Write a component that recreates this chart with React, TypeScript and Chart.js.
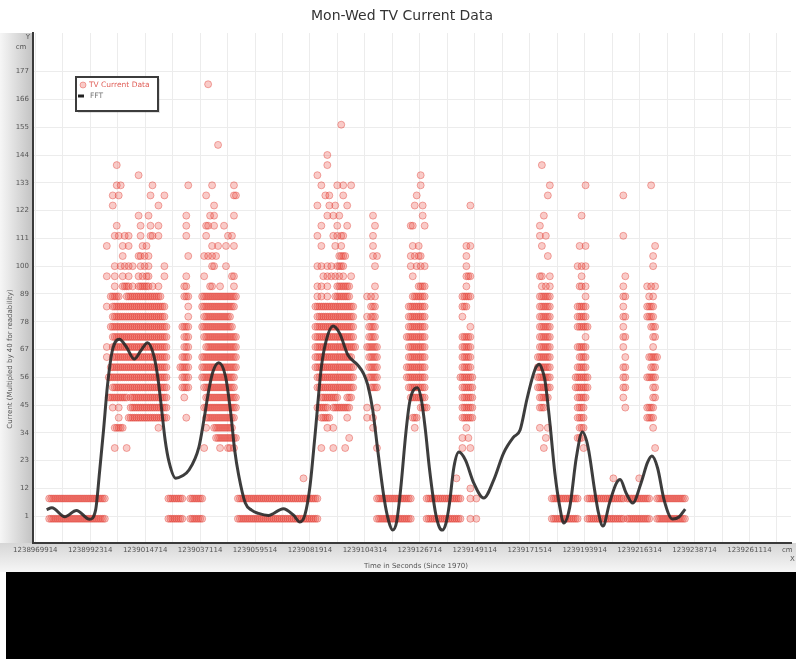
import React, { useEffect, useRef } from 'react';
import { Chart, registerables } from 'chart.js';

Chart.register(...registerables);

// ---------- text ----------
const TITLE = 'Mon-Wed TV Current Data';
const X_TITLE = 'Time in Seconds (Since 1970)';
const Y_TITLE = 'Current (Multipled by 40 for readability)';
const SERIES_READINGS = 'TV Current Data';
const SERIES_FFT = 'FFT';
const Y_UNIT = 'cm';
const X_UNIT = 'cm';

// ---------- axes ----------
const X_TICK_LABELS = [
  1238969914, 1238992314, 1239014714, 1239037114, 1239059514, 1239081914, 1239104314,
  1239126714, 1239149114, 1239171514, 1239193914, 1239216314, 1239238714, 1239261114,
];
const X_GRID_HALF_STEP = 11200;
const X_MIN = 1238968982;
const X_MAX = 1239278043;
const Y_TICKS = [1, 12, 23, 34, 45, 56, 67, 78, 89, 100, 111, 122, 133, 144, 155, 166, 177];
const Y_MIN = -9.6;
const Y_MAX = 192.3;

// ---------- readings ----------
// Readings are placed on a time grid: slot k = START + k * SLOT_SECONDS.
// Each row is [current value, pattern]; an 'o' at position i is a reading in slot firstSlot + i.
const START = 1238969914;
const SLOT_SECONDS = 810;

// standby readings at levels 0 and 8
const STANDBY_LEVELS = [0, 8];
const STANDBY_RUNS: [number, string][] = [
  [7, 'ooooooooooooooooooooooooooooo'],
  [67, 'oooooooo...ooooooo'],
  [102, 'ooooooooooooooooooooooooooooooooooooooooo'],
  [172, 'oooooooooooooooooo'],
  [197, 'oooooooooooooooooo....o..o'],
  [260, 'oooooooooooooo'],
  [278, 'ooooooooooooooooooo.oooooooooooo...ooooooooooooooo'],
];

const SESSION_1_SLOT = 35;
const SESSION_1: [number, string][] = [
  [140, '......o'],
  [136, '.................o'],
  [132, '......o.o...............o'],
  [128, '....o..o...............o......o'],
  [124, '....o......................o'],
  [120, '.................o....o'],
  [116, '......o...........o....o...o'],
  [112, '.....o.o..o.o.....o....oo..o'],
  [108, '.o.......o..o......o.o'],
  [104, '.........o.......oo.o.o'],
  [100, '.....o..o.o.o.o...o.o.o.......o'],
  [96, '.o...o...o..o....o.o.oo.......o'],
  [92, '.....o...oooo.o..oooooo.o..o'],
  [88, '...ooooo...oooooooooooooooooo'],
  [84, '.o..ooooooooooooooooooooooooooo'],
  [80, '....ooooooooooooooooooooooooooo'],
  [76, '...ooooooooooooooooooooooooooooo'],
  [72, '....oooooooooooooooooooooooooooo'],
  [68, '.o..oooooooooooooooooooooooooooo'],
  [64, '.o..oooooooooooooooooooooooooooo'],
  [60, '...ooooooooooooooooooooooooooooo'],
  [56, '..oooooooooooooooooooooooooooooo'],
  [52, '....oooooooooooooooooooooooooooo'],
  [48, '..oooooooooo.ooooooooooooooooooo'],
  [44, '....o..o.....ooooooooooooooooooo'],
  [40, '.......o....oooooooooooooooooooo'],
  [36, '.....ooooo.................o'],
  [28, '.....o.....o'],
];

const SESSION_2_SLOT = 73;
const SESSION_2: [number, string][] = [
  [172, '..............o'],
  [148, '...................o'],
  [132, '....o...........o..........o'],
  [128, '.............o.............oo'],
  [124, '.................o'],
  [120, '...o...........o.o.........o'],
  [116, '...o.........oo..o....o'],
  [112, '...o.........o..........o.o'],
  [108, '................o..o...o...o'],
  [104, '....o.......o.o.o.o'],
  [100, '................oo.....o'],
  [96, '...o........o.............oo'],
  [92, '..oo...........oo...o......o'],
  [88, '..ooo......oooooooooooooooooo'],
  [84, '....o......ooooooooooooooooo'],
  [80, '....o.......oooooooooooooo'],
  [76, '.oooo......oooooooooooooooo'],
  [72, '..ooo.......ooooooooooooooooo'],
  [68, '..ooo........oooooooooooooooo'],
  [64, '.oooo......oooooooooooooooooo'],
  [60, 'ooooo......oooooooooooooooooo'],
  [56, '.oooo......ooooooooooooooooo'],
  [52, '.oooo.......oooooooooooooooo'],
  [48, '..o..........oooooooooooooooo'],
  [44, '............ooooooooooooooooo'],
  [40, '...o.........ooooooooooooooo'],
  [36, '.............o...oooooooooo'],
  [32, '..................ooooooooooo'],
  [28, '............o.......o...oo.o'],
];

const SESSION_3_SLOT = 135;
const SESSION_3: [number, string][] = [[16, 'o']];

const SESSION_4_SLOT = 140;
const SESSION_4: [number, string][] = [
  [156, '..............o'],
  [144, '.......o'],
  [140, '.......o'],
  [136, '..o'],
  [132, '....o.......o..o...o'],
  [128, '......o.o......o'],
  [124, '..o.....o..o.....o'],
  [120, '.......o..o..o'],
  [116, '....o.......o....o'],
  [112, '..o.......o.o.oo'],
  [108, '....o......o..o'],
  [104, '.............oooo'],
  [100, '..o.o..o.o..oooo'],
  [96, '.....o.o.o.o.o.o...o'],
  [92, '..o.o..o....ooooooo'],
  [88, '..o.o..o...oooooooo'],
  [84, '.oooooooooooooooooooo'],
  [80, '..ooooooooooooooooooo'],
  [76, '.oooooooooooooooooooo'],
  [72, '.oooooooooooooooooooo'],
  [68, '.ooooooooooooooooooooo'],
  [64, '.ooooooooooooooooooo'],
  [60, '.oooooooooooooooooooo'],
  [56, '..ooooooooooooooooooo'],
  [52, '..ooooooooooooooooooo'],
  [48, '....ooooooooo....ooo'],
  [44, '..oooooo..ooooooooo'],
  [40, '....ooooo........o'],
  [36, '.......o..o'],
  [32, '..................o'],
  [28, '....o.....o.....o'],
];

const SESSION_5_SLOT = 166;
const SESSION_5: [number, string][] = [
  [120, '....o'],
  [116, '.....o'],
  [112, '....o'],
  [108, '....o'],
  [104, '....o.o'],
  [100, '.....o'],
  [92, '.....o'],
  [88, '.o.o.o'],
  [84, '...ooo'],
  [80, '.o.ooo'],
  [76, '..oooo'],
  [72, '..oooo'],
  [68, '.oooooo'],
  [64, '..ooooo'],
  [60, '..ooooo'],
  [56, '..ooooo'],
  [52, '...oooo'],
  [44, '.o....o'],
  [40, '.o..o'],
  [36, '....o'],
  [28, '......o'],
];

const SESSION_6_SLOT = 187;
const SESSION_6: [number, string][] = [
  [136, '.......o'],
  [132, '.......o'],
  [128, '.....o'],
  [124, '....o...o'],
  [120, '........o'],
  [116, '..oo.....o'],
  [108, '...o..o'],
  [104, '..o.o.oo'],
  [100, '..o..o.o.o'],
  [96, '...o'],
  [92, '......oooo'],
  [88, '...ooooooo'],
  [84, '.ooooooooo'],
  [80, '.ooooooooo'],
  [76, '.ooooooooo'],
  [72, 'oooooooooo'],
  [68, '.ooooooooo'],
  [64, '.ooooooooo'],
  [60, 'oooooooooo'],
  [56, 'oooooooooo'],
  [52, '.ooooooooo'],
  [48, '..oooooooo'],
  [44, '.......oooo'],
  [40, '...ooo'],
  [36, '....o'],
];

const SESSION_7_SLOT = 212;
const SESSION_7: [number, string][] = [
  [124, '.......o'],
  [108, '.....o.o'],
  [104, '.....o'],
  [100, '.....o'],
  [96, '.....ooo'],
  [92, '.....o'],
  [88, '...ooooo'],
  [84, '...ooo'],
  [80, '...o'],
  [76, '.......o'],
  [72, '...ooooo'],
  [68, '...ooooo'],
  [64, '...ooooo'],
  [60, '...ooooo'],
  [56, '..ooooooo'],
  [52, '...oooooo'],
  [48, '...oooooo'],
  [44, '...oooooo'],
  [40, '...oooooo'],
  [36, '.....o'],
  [32, '...o..o'],
  [28, '...o...o'],
  [16, 'o'],
  [12, '.......o'],
];

const SESSION_8_SLOT = 253;
const SESSION_8: [number, string][] = [
  [140, '..o'],
  [132, '......o'],
  [128, '.....o'],
  [120, '...o'],
  [116, '.o'],
  [112, '.o..o'],
  [108, '..o'],
  [104, '.....o'],
  [96, '.oo...o'],
  [92, '..o.o.o'],
  [88, '.oooooo'],
  [84, '.oooooo'],
  [80, '.oooooo'],
  [76, '.oooooo'],
  [72, '.oooooo'],
  [68, '.oooooo'],
  [64, 'ooooooo'],
  [60, 'ooooooo'],
  [56, 'ooooooo'],
  [52, 'ooooooo'],
  [48, '.ooooo'],
  [44, '.ooo'],
  [36, '.o...o'],
  [32, '....o'],
  [28, '...o'],
];

const SESSION_9_SLOT = 272;
const SESSION_9: [number, string][] = [
  [132, '.....o'],
  [120, '...o'],
  [108, '..o..o'],
  [100, '.o.o.o'],
  [96, '...o'],
  [92, '..oo.o'],
  [88, '.....o'],
  [84, '.ooooo'],
  [80, '.ooooo'],
  [76, '.oooooo'],
  [72, '.....o'],
  [68, '.ooooo'],
  [64, '..oooo'],
  [60, '.ooooo'],
  [56, 'ooooooo'],
  [52, 'ooooooo'],
  [48, '.ooooo'],
  [44, '.oooo'],
  [40, '.oooo'],
  [36, '..ooo'],
  [32, '.ooo'],
  [28, '....o'],
];

const SESSION_10_SLOT = 290;
const SESSION_10: [number, string][] = [
  [128, '......o'],
  [112, '......o'],
  [96, '.......o'],
  [92, '......o'],
  [88, '......oo'],
  [84, '......o'],
  [80, '......oo'],
  [76, '......o'],
  [72, '......oo'],
  [68, '......o'],
  [64, '.......o'],
  [60, '......oo'],
  [56, '......oo'],
  [52, '......oo'],
  [48, '......o'],
  [44, '.......o'],
  [16, '.o............o'],
];

const SESSION_11_SLOT = 303;
const SESSION_11: [number, string][] = [
  [132, '.......o'],
  [108, '.........o'],
  [104, '........o'],
  [100, '........o'],
  [92, '.....o.o.o'],
  [88, '......o.o'],
  [84, '.....oooo'],
  [80, '.....oooo'],
  [76, '.......ooo'],
  [72, '........oo'],
  [68, '........o'],
  [64, '......ooooo'],
  [60, '.......ooo'],
  [56, '.....ooooo'],
  [52, '........oo'],
  [48, '........oo'],
  [44, '.....oooo'],
  [40, '.....oooo'],
  [36, '........o'],
  [28, '.........o'],
];

const SESSION_SLOTS = [
  SESSION_1_SLOT, SESSION_2_SLOT, SESSION_3_SLOT, SESSION_4_SLOT, SESSION_5_SLOT, SESSION_6_SLOT,
  SESSION_7_SLOT, SESSION_8_SLOT, SESSION_9_SLOT, SESSION_10_SLOT, SESSION_11_SLOT,
];
const SESSIONS = [
  SESSION_1, SESSION_2, SESSION_3, SESSION_4, SESSION_5, SESSION_6,
  SESSION_7, SESSION_8, SESSION_9, SESSION_10, SESSION_11,
];

// ---------- FFT curve ----------
const FFT_SECONDS_AFTER_START = [
  4618, 6764, 12030, 16769, 22157, 24587, 26207, 27828, 29448, 31473,
  34309, 37144, 40384, 43220, 45772, 48486, 50106, 51321, 52942, 54562,
  57276, 59828, 62663, 66713, 68739, 70764, 72384, 74815, 77529, 79554,
  81296, 82916, 85630, 88182, 91017, 95068, 101143, 105194, 107908, 109933,
  111959, 113984, 116657, 118683, 121396, 124110, 127472, 131523, 133953, 135574,
  137599, 139624, 142338, 144080, 145700, 147320, 148941, 151087, 152586, 154207,
  155827, 157447, 159067, 160687, 163118, 164738, 165953, 167574, 168789, 170693,
  172718, 175391, 178794, 182844, 186895, 190945, 194996, 197669, 200383, 202408,
  204029, 205527, 206864, 207796, 209821, 211846, 213872, 215492, 217922, 220636,
  223066, 225375, 228049, 229547, 231451, 234125, 236838, 238459, 240889, 243603,
  246965, 249679, 251421, 253730, 256403, 259806, 262479, 264991,
];
const FFT_VALUES = [
  3.6, 4.4, 0.8, 3.3, -0.2, 3.4, 18.5, 35.1, 52.9, 66.8,
  71.1, 68.0, 63.2, 66.8, 69.7, 64.0, 54.9, 45.0, 31.2, 22.4,
  16.0, 16.9, 19.3, 28.4, 39.1, 51.0, 58.1, 61.8, 56.5, 43.0,
  27.2, 17.3, 6.2, 3.4, 2.1, 1.3, 4.0, 1.5, -1.3, 1.5,
  12.5, 32.3, 60.1, 70.8, 76.3, 73.4, 64.8, 60.8, 57.3, 52.9,
  43.0, 27.2, 7.4, -0.9, -4.5, -1.3, 11.4, 33.9, 45.8, 51.0,
  51.9, 47.0, 35.1, 20.1, 2.7, -3.3, -4.5, -1.3, 5.4, 20.5,
  26.4, 23.2, 14.1, 8.2, 15.3, 26.0, 32.3, 35.1, 47.0, 54.9,
  59.7, 61.2, 58.5, 54.9, 37.9, 18.1, 4.6, -1.7, 4.6, 24.4,
  34.3, 28.4, 11.4, 2.7, -2.9, 6.2, 13.9, 15.5, 10.2, 6.2,
  14.1, 22.4, 24.8, 20.1, 7.4, -0.1, 0.7, 3.8,
];

// ---------- styles ----------
const FONT = '"DejaVu Sans", Verdana, sans-serif';
const POINT_FILL = 'rgba(232, 70, 58, 0.28)';
const POINT_EDGE = 'rgba(224, 62, 52, 0.42)';
const FFT_COLOR = 'rgba(40, 40, 40, 0.9)';

function buildReadings() {
  const out: { x: number; y: number }[] = [];
  const addRow = (firstSlot: number, value: number, pattern: string) => {
    for (let i = 0; i < pattern.length; i++) {
      if (pattern[i] === 'o') out.push({ x: START + (firstSlot + i) * SLOT_SECONDS, y: value });
    }
  };
  for (const level of STANDBY_LEVELS) {
    for (const [slot, pattern] of STANDBY_RUNS) addRow(slot, level, pattern);
  }
  SESSIONS.forEach((rows, s) => {
    for (const [value, pattern] of rows) addRow(SESSION_SLOTS[s], value, pattern);
  });
  return out;
}

const decor = {
  id: 'decor',
  beforeDraw(chart: any) {
    const { ctx, width, height, chartArea } = chart;
    ctx.save();
    ctx.fillStyle = '#ffffff';
    ctx.fillRect(0, 0, width, height);
    // left axis band
    const gl = ctx.createLinearGradient(0, 0, chartArea.left, 0);
    gl.addColorStop(0, '#f6f6f6');
    gl.addColorStop(1, '#c2c2c2');
    ctx.fillStyle = gl;
    ctx.fillRect(0, chartArea.top, chartArea.left, chartArea.bottom - chartArea.top);
    // bottom axis band
    const gb = ctx.createLinearGradient(0, chartArea.bottom, 0, chartArea.bottom + 29);
    gb.addColorStop(0, '#d6d6d6');
    gb.addColorStop(1, '#f6f6f6');
    ctx.fillStyle = gb;
    ctx.fillRect(0, chartArea.bottom, width, 29);
    // black band below
    ctx.fillStyle = '#000000';
    ctx.fillRect(6, chartArea.bottom + 29, width - 6, height - chartArea.bottom - 29);
    ctx.restore();
  },
  afterDraw(chart: any) {
    const { ctx, chartArea } = chart;
    ctx.save();
    // title
    ctx.fillStyle = '#333333';
    ctx.font = `14px ${FONT}`;
    ctx.textAlign = 'center';
    ctx.textBaseline = 'middle';
    ctx.fillText(TITLE, 402, 16);
    // axis titles
    ctx.font = `7px ${FONT}`;
    ctx.fillStyle = '#555555';
    ctx.fillText(X_TITLE, 416, chartArea.bottom + 23);
    ctx.save();
    ctx.translate(10, 359);
    ctx.rotate(-Math.PI / 2);
    ctx.fillText(Y_TITLE, 0, 0);
    ctx.restore();
    // axis unit labels
    ctx.fillText('Y', 28, chartArea.top + 4);
    ctx.fillText(Y_UNIT, 21, chartArea.top + 14);
    ctx.textAlign = 'left';
    ctx.fillText(X_UNIT, 782, chartArea.bottom + 7);
    ctx.fillText('X', 790, chartArea.bottom + 16);
    // legend
    const lx = 76, ly = 77, lw = 82, lh = 34;
    ctx.fillStyle = 'rgba(0,0,0,0.12)';
    ctx.fillRect(lx + 2, ly + 2, lw, lh);
    ctx.fillStyle = '#ffffff';
    ctx.fillRect(lx, ly, lw, lh);
    ctx.strokeStyle = '#3c3c3c';
    ctx.lineWidth = 2;
    ctx.strokeRect(lx, ly, lw, lh);
    ctx.beginPath();
    ctx.arc(lx + 7, ly + 8, 3, 0, Math.PI * 2);
    ctx.fillStyle = POINT_FILL;
    ctx.fill();
    ctx.lineWidth = 1;
    ctx.strokeStyle = POINT_EDGE;
    ctx.stroke();
    ctx.font = `7.5px ${FONT}`;
    ctx.textAlign = 'left';
    ctx.fillStyle = '#e0605a';
    ctx.fillText(SERIES_READINGS, lx + 13, ly + 8);
    ctx.strokeStyle = '#222222';
    ctx.lineWidth = 3;
    ctx.beginPath();
    ctx.moveTo(lx + 2, ly + 19);
    ctx.lineTo(lx + 8, ly + 19);
    ctx.stroke();
    ctx.fillStyle = '#777777';
    ctx.fillText(SERIES_FFT, lx + 14, ly + 19);
    ctx.restore();
  },
};

export default function App() {
  const ref = useRef<HTMLCanvasElement>(null);
  useEffect(() => {
    document.body.style.margin = '0';
    const canvas = ref.current;
    if (!canvas) return;
    const readings = buildReadings();
    const fft = FFT_SECONDS_AFTER_START.map((s, i) => ({ x: START + s, y: FFT_VALUES[i] }));
    const xTicks: number[] = [];
    for (const t of X_TICK_LABELS) {
      xTicks.push(t);
      if (t + X_GRID_HALF_STEP <= X_MAX) xTicks.push(t + X_GRID_HALF_STEP);
    }
    const chart = new Chart(canvas, {
      type: 'scatter',
      data: {
        datasets: [
          {
            type: 'line',
            label: SERIES_FFT,
            data: fft,
            borderColor: FFT_COLOR,
            borderWidth: 3,
            pointRadius: 0,
            cubicInterpolationMode: 'monotone',
            fill: false,
            order: 0,
          } as any,
          {
            label: SERIES_READINGS,
            data: readings,
            pointRadius: 3.5,
            pointBorderWidth: 1,
            backgroundColor: POINT_FILL,
            borderColor: POINT_EDGE,
            order: 1,
          },
        ],
      },
      options: {
        responsive: false,
        animation: false,
        devicePixelRatio: 1,
        layout: { padding: { top: 33, bottom: 87, left: 0, right: 0 } },
        plugins: { legend: { display: false }, tooltip: { enabled: false }, title: { display: false } },
        scales: {
          x: {
            type: 'linear',
            min: X_MIN,
            max: X_MAX,
            afterBuildTicks: (s: any) => {
              s.ticks = xTicks.map((v) => ({ value: v }));
            },
            afterFit: (s: any) => {
              s.height = 29;
            },
            grid: { color: '#ececec', drawTicks: false },
            border: { color: '#3a3a3a', width: 2 },
            ticks: {
              autoSkip: false,
              maxRotation: 0,
              padding: 3,
              color: '#555555',
              font: { family: FONT, size: 7 },
              callback: (v: any) => (X_TICK_LABELS.includes(Number(v)) ? String(v) : ''),
            },
          },
          y: {
            type: 'linear',
            min: Y_MIN,
            max: Y_MAX,
            afterBuildTicks: (s: any) => {
              s.ticks = Y_TICKS.map((v) => ({ value: v }));
            },
            afterFit: (s: any) => {
              s.width = 33;
            },
            grid: { color: '#ececec', drawTicks: false },
            border: { color: '#3a3a3a', width: 2 },
            ticks: {
              padding: 4,
              color: '#555555',
              font: { family: FONT, size: 7 },
              callback: (v: any) => String(v),
            },
          },
        },
      },
      plugins: [decor],
    });
    return () => chart.destroy();
  }, []);
  return (
    <div style={{ position: 'fixed', left: 0, top: 0, width: 796, height: 659 }}>
      <canvas ref={ref} width={796} height={659} style={{ display: 'block' }} />
    </div>
  );
}
